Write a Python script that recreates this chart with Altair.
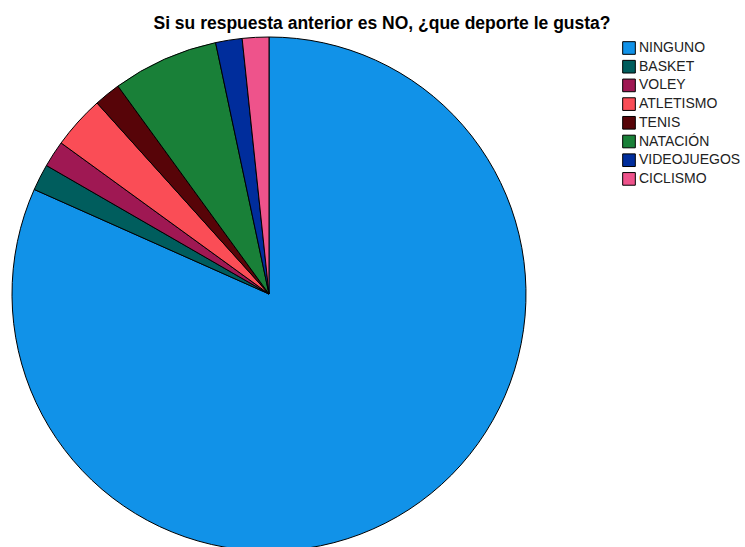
import altair as alt
import pandas as pd

categories = ["NINGUNO", "BASKET", "VOLEY", "ATLETISMO", "TENIS", "NATACIÓN", "VIDEOJUEGOS", "CICLISMO"]
counts = [49, 1, 1, 2, 1, 4, 1, 1]
colors = ["#1192e8", "#005d5d", "#9f1853", "#fa4d56", "#570408", "#198038", "#002d9c", "#ee538b"]
title_text = "Si su respuesta anterior es NO, ¿que deporte le gusta?"

df = pd.DataFrame({"categoria": categories, "n": counts, "idx": list(range(len(categories)))})

pie = alt.Chart(df).mark_arc(radius=257, stroke="black", strokeWidth=1).encode(
    theta=alt.Theta("n:Q", stack=True),
    order=alt.Order("idx:Q"),
    color=alt.Color(
        "categoria:N",
        scale=alt.Scale(domain=categories, range=colors),
        sort=categories,
        legend=alt.Legend(
            title=None,
            orient="none",
            legendX=622,
            legendY=41,
            symbolType="square",
            symbolSize=160,
            symbolStrokeColor="black",
            symbolStrokeWidth=1,
            labelFont="Liberation Sans",
            labelFontSize=14,
            labelColor="#222222",
            labelOffset=3,
            rowPadding=0.7,
            padding=0,
        ),
    ),
    x=alt.value(269),
    y=alt.value(294),
)

title = alt.Chart(pd.DataFrame({"t": [title_text]})).mark_text(
    font="Liberation Sans", fontSize=17.5, fontWeight="bold", color="black", align="center", baseline="alphabetic"
).encode(x=alt.value(382), y=alt.value(29), text="t:N")

chart = alt.layer(pie, title).properties(
    width=745, height=547, padding=0, autosize=alt.AutoSizeParams(type="none")
).configure_view(stroke=None)

chart.save("out.html", embed_options={"renderer": "svg", "actions": False})
